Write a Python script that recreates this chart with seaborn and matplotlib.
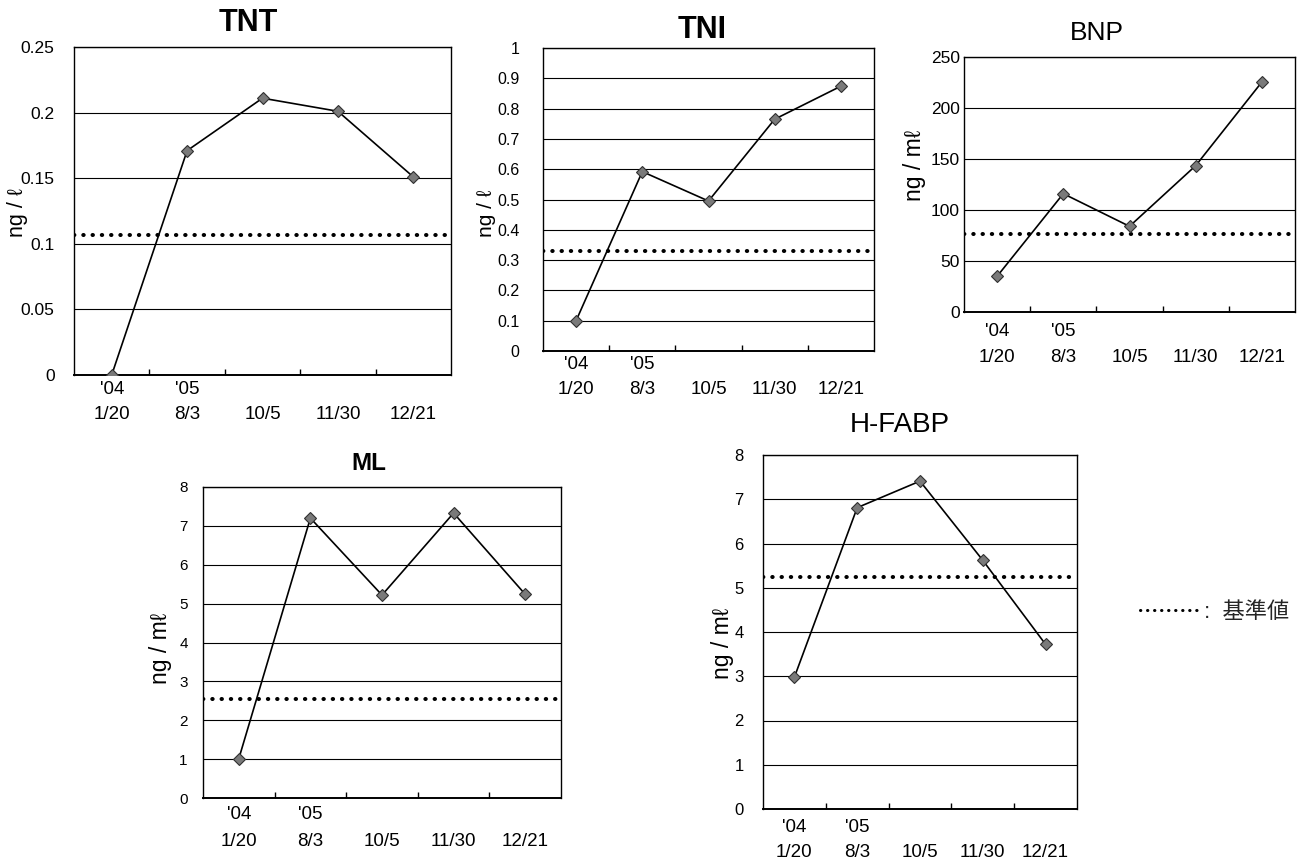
import matplotlib
matplotlib.use('Agg')
import matplotlib.pyplot as plt
import seaborn as sns
import pandas as pd
import numpy as np
from matplotlib.lines import Line2D
from matplotlib.ticker import FixedLocator, FixedFormatter, NullFormatter

# ---------------- data ----------------
dates = ['1/20', '8/3', '10/5', '11/30', '12/21']
years = ["'04", "'05", '', '', '']

tnt = [0.0, 0.171, 0.211, 0.201, 0.151]
tni = [0.10, 0.592, 0.495, 0.765, 0.874]
bnp = [35.0, 116.0, 84.0, 143.5, 225.5]
ml = [1.01, 7.20, 5.22, 7.33, 5.24]
hfabp = [2.98, 6.81, 7.41, 5.62, 3.72]

ref_values = [0.107, 0.331, 76.0, 2.54, 5.25]
titles = ['TNT', 'TNI', 'BNP', 'ML', 'H-FABP']
units = ['ng / ℓ', 'ng / ℓ', 'ng / mℓ', 'ng / mℓ', 'ng / mℓ']
y_max = [0.25, 1.0, 250, 8, 8]
y_step = [0.05, 0.1, 50, 1, 1]
legend_label = ' :  基準値'

series = [tnt, tni, bnp, ml, hfabp]

# ---------------- layout (pixels) ----------------
W, H = 1316, 865
# left, right, top, bottom of axes box
boxes = [(74, 451, 47, 375), (543, 874, 48, 351), (964, 1295, 57, 312),
         (203, 561, 487, 798), (763, 1077, 455, 809)]
title_pos = [(248, 23), (702, 30), (1097, 33), (369, 463), (900, 425)]
title_size = [22, 22, 19, 17.5, 20]
title_weight = ['bold', 'bold', 'normal', 'bold', 'normal']
ylabel_pos = [(18, 213), (486, 213), (915, 165), (160, 648), (722, 643)]
ylabel_size = [15.5, 15, 16.5, 16.5, 16.5]
ytick_pad = [14, 17, 3, 11, 14]
ytick_size = [12.5, 11.5, 12.5, 11, 12]
# offsets (pt) of the year row centre and the date row (tick pad)
year_off = [10.8, 9.4, 14.4, 12.2, 13.0]
date_pad = [22.5, 21.8, 27.0, 25.5, 25.5]
xtick_size = 13.5

sns.set_theme(style='white')
plt.rcParams['font.family'] = ['Liberation Sans', 'Noto Sans CJK JP', 'DejaVu Sans']

fig = plt.figure(figsize=(W / 100, H / 100), dpi=100)
fig.patch.set_facecolor('white')

for i in range(5):
    l, r, t, b = boxes[i]
    ax = fig.add_axes([l / W, 1 - b / H, (r - l) / W, (b - t) / H])
    df = pd.DataFrame({'date': dates, 'value': series[i]})
    sns.lineplot(data=df, x='date', y='value', sort=False, ax=ax,
                 color='black', lw=1.2, marker='D', markersize=6.5,
                 markerfacecolor='#7a7a7a', markeredgecolor='#303030',
                 markeredgewidth=0.8, zorder=5)
    ax.axhline(ref_values[i], xmin=0.0, xmax=0.99, color='black',
               lw=2.9, linestyle=(0, (0.1, 2.2)),
               dash_capstyle='round', zorder=4)
    ax.set_xlim(-0.5, 4.5)
    ax.set_ylim(0, y_max[i])
    yt = np.round(np.arange(0, y_max[i] + y_step[i] / 2, y_step[i]), 4)
    ax.set_yticks(yt)
    ax.set_yticklabels(['{:g}'.format(v) for v in yt])
    ax.yaxis.grid(True, color='black', lw=0.8)
    ax.xaxis.grid(False)
    ax.set_axisbelow(True)
    # x ticks: marks at category boundaries, date labels at centres
    ax.xaxis.set_major_locator(FixedLocator([0.5, 1.5, 2.5, 3.5]))
    ax.xaxis.set_major_formatter(NullFormatter())
    ax.xaxis.set_minor_locator(FixedLocator(list(range(len(dates)))))
    ax.xaxis.set_minor_formatter(FixedFormatter(dates))
    ax.tick_params(axis='x', which='major', direction='in', length=4,
                   width=1, color='black', bottom=True)
    ax.tick_params(axis='x', which='minor', length=0, labelsize=xtick_size,
                   pad=date_pad[i], labelcolor='black')
    # year row above the dates
    for k, yr in enumerate(years):
        if yr:
            ax.annotate(yr, xy=(k, 0), xycoords=('data', 'axes fraction'),
                        xytext=(0, -year_off[i]), textcoords='offset points',
                        ha='center', va='center', fontsize=xtick_size,
                        color='black', annotation_clip=False)
    ax.tick_params(axis='y', length=0, labelsize=ytick_size[i],
                   pad=ytick_pad[i], labelcolor='black')
    for s in ax.spines.values():
        s.set_visible(True)
        s.set_color('black')
        s.set_linewidth(1.0)
    ax.spines['bottom'].set_linewidth(1.4)
    ax.set_xlabel('')
    ax.set_ylabel(units[i], fontsize=ylabel_size[i], va='center',
                  color='black')
    yx, yy = ylabel_pos[i]
    ax.yaxis.set_label_coords((yx - l) / (r - l), (b - yy) / (b - t))
    tx, ty = title_pos[i]
    ax.text((tx - l) / (r - l), (b - ty) / (b - t), titles[i],
            transform=ax.transAxes, ha='center', va='center',
            fontsize=title_size[i], fontweight=title_weight[i], color='black')

legend_handle = Line2D([], [], color='black', lw=2.2,
                       linestyle=(0, (0.1, 2.2)), dash_capstyle='round')
fig.legend(handles=[legend_handle], labels=[legend_label],
           loc='center left', bbox_to_anchor=(1140 / W, 1 - 612 / H),
           frameon=False, fontsize=16, handlelength=2.6,
           handletextpad=0.0, borderpad=0, borderaxespad=0)

fig.savefig('out.png', dpi=100, facecolor='white')
